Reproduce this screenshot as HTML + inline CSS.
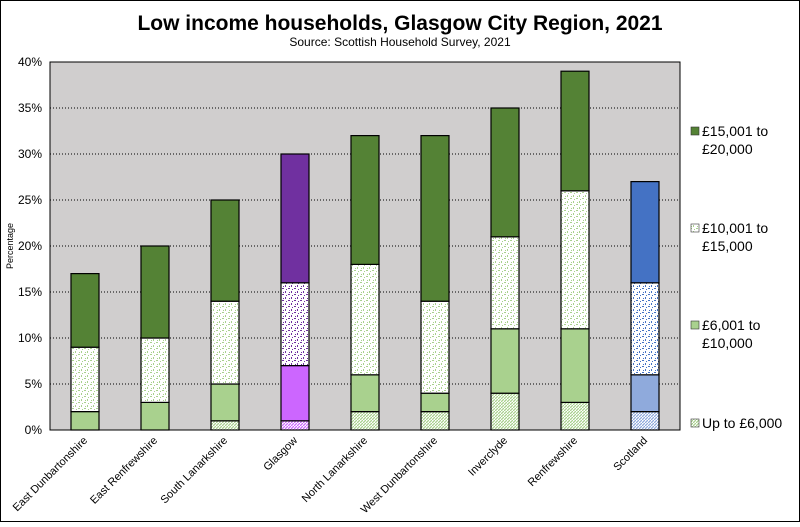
<!DOCTYPE html>
<html><head><meta charset="utf-8"><style>
body{margin:0;background:#fff;font-family:"Liberation Sans",Arial,sans-serif}
svg text{font-family:"Liberation Sans",Arial,sans-serif}
</style></head><body>
<svg width="800" height="522" viewBox="0 0 800 522">
<defs>
<pattern id="pd" width="4" height="4" patternUnits="userSpaceOnUse"><rect width="4" height="4" fill="#fff"/><rect x="0" y="0" width="2" height="1" fill="COL"/></pattern>
</defs>
<rect x="0.5" y="0.5" width="799" height="521" fill="#fff" stroke="#000"/>
<text x="400" y="30" text-anchor="middle" font-size="21" font-weight="bold">Low income households, Glasgow City Region, 2021</text>
<text x="400" y="46" text-anchor="middle" font-size="12">Source: Scottish Household Survey, 2021</text>
<text transform="translate(13,246) rotate(-90)" text-anchor="middle" font-size="9">Percentage</text>
<g id="plot"></g>
<g id="legend"></g>
</svg>
<script>
const categories=["East Dunbartonshire","East Renfrewshire","South Lanarkshire","Glasgow","North Lanarkshire","West Dunbartonshire","Inverclyde","Renfrewshire","Scotland"];
const upTo6000=[0,0,1,1,2,2,4,3,2];
const from6001=[2,3,4,6,4,2,7,8,4];
const from10001=[7,7,9,9,12,10,10,15,10];
const from15001=[8,10,11,14,14,18,14,13,11];
const yTicks=[0,5,10,15,20,25,30,35,40];
const seriesNames=["£15,001 to|£20,000","£10,001 to|£15,000","£6,001 to|£10,000","Up to £6,000"];
const NS="http://www.w3.org/2000/svg";
const X0=50,X1=680,Y0=430,Y1=62,YMAX=40;
const y=v=>Y0-(v/YMAX)*(Y0-Y1);
const band=(X1-X0)/categories.length;
const xc=i=>X0+band*(i+0.5);
const BW=28;
const svg=document.querySelector('svg'),defs=svg.querySelector('defs'),plot=document.getElementById('plot'),leg=document.getElementById('legend');
function mk(t,a,p){const e=document.createElementNS(NS,t);for(const k in a)e.setAttribute(k,a[k]);(p||plot).appendChild(e);return e;}
const palettes={green:["#548235","#A9D18E"],purple:["#7030A0","#CC66FF"],blue:["#4472C4","#8FAADC"]};
for(const k in palettes){const [d,l]=palettes[k];
 let p=mk('pattern',{id:'dots-'+k,width:6,height:6,patternUnits:'userSpaceOnUse'},defs);
 mk('rect',{width:6,height:6,fill:'#fff'},p);mk('rect',{x:0,y:0,width:2,height:1,fill:k=='green'?l:d},p);mk('rect',{x:3,y:3,width:1,height:2,fill:k=='green'?l:d},p);mk('rect',{x:4,y:1,width:1,height:1,fill:k=='green'?l:d},p);mk('rect',{x:1,y:4,width:1,height:1,fill:k=='green'?l:d},p);
 p=mk('pattern',{id:'hatch-'+k,width:3,height:3,patternUnits:'userSpaceOnUse'},defs);
 mk('rect',{width:3,height:3,fill:'#fff'},p);mk('path',{d:'M0,3 L3,0',stroke:l,'stroke-width':1.3},p);
}
mk('rect',{x:X0,y:Y1,width:X1-X0,height:Y0-Y1,fill:'#D0CECE','stroke':'#000','stroke-width':1});
yTicks.forEach(t=>{
 if(t>0&&t<YMAX){const g=mk('line',{x1:X0,x2:X1,y1:y(t),y2:y(t),stroke:'#000','stroke-dasharray':'1,2','stroke-width':1});}
 const tx=mk('text',{x:X0-8,y:y(t)+4,'text-anchor':'end','font-size':12});tx.textContent=t+'%';
 
 
});
const series=[upTo6000,from6001,from10001,from15001];
categories.forEach((c,i)=>{
 const pal=c=="Glasgow"?'purple':c=="Scotland"?'blue':'green';
 const fills=['url(#hatch-'+pal+')',palettes[pal][1],'url(#dots-'+pal+')',palettes[pal][0]];
 let base=0;
 series.forEach((s,j)=>{const v=s[i];if(v<=0)return;
  const r=mk('rect',{x:xc(i)-BW/2,y:y(base+v),width:BW,height:y(base)-y(base+v),fill:fills[j],stroke:'#000','stroke-width':1.2});
  
  
  base+=v;});
 const lb=mk('text',{transform:`translate(${xc(i)+3},${Y0+11}) rotate(-45)`,'text-anchor':'end','font-size':11});lb.textContent=c;
 
 
});
const legFills=['#548235','url(#dots-green)','#A9D18E','url(#hatch-green)'];
const legY=[136,233,330,428];
seriesNames.forEach((n,k)=>{
 const g=mk('g',{},leg);
 
 
 mk('rect',{x:691,y:legY[k]-9,width:8,height:8,fill:legFills[k],stroke:'#333','stroke-width':0.6},g);
 n.split('|').forEach((ln,m)=>{const t=mk('text',{x:702,y:legY[k]+m*18,'font-size':14},g);t.textContent=ln;});
});
</script>
</body></html>
